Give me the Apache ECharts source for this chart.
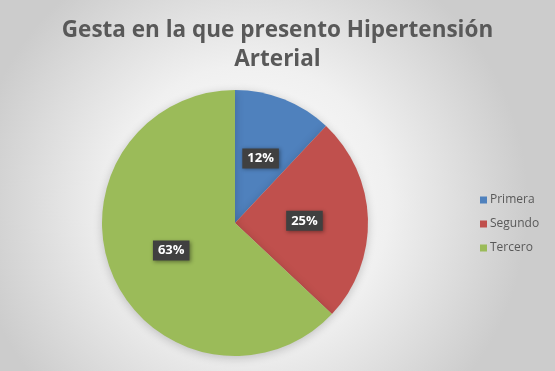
<!DOCTYPE html>
<html><head><meta charset="utf-8">
<script src="https://cdn.jsdelivr.net/npm/echarts@6/dist/echarts.min.js"></script>
<style>html,body{margin:0;padding:0;}#c{width:555px;height:371px;}</style>
</head><body><div id="c"></div>
<script>
var categories = ['Primera', 'Segundo', 'Tercero'];
var values = [12, 25, 63];
var colors = ['#4F81BD', '#C0504D', '#9BBB59'];
var titleText = 'Gesta en la que presento Hipertensión\nArterial';

var chart = echarts.init(document.getElementById('c'));
chart.setOption({
  backgroundColor: {
    type: 'radial', x: 0.45, y: 0.55, r: 0.75,
    colorStops: [{offset: 0, color: '#ffffff'}, {offset: 0.5, color: '#f0f0f0'}, {offset: 1, color: '#cccccc'}]
  },
  title: {
    text: titleText, left: 'center', top: 11,
    textStyle: {fontFamily: 'Open Sans', fontWeight: 'bold', fontSize: 22.5, color: '#595959', lineHeight: 29}
  },
  legend: {
    orient: 'vertical', left: 475, top: 189, itemWidth: 7, itemHeight: 7, itemGap: 12,
    icon: 'rect',
    textStyle: {fontFamily: 'Open Sans', fontSize: 12, color: '#595959', padding: [0,0,0,-2]},
    data: categories
  },
  series: [{
    type: 'pie', center: [235, 223], radius: 133, startAngle: 90, clockwise: true,
    animation: false,
    itemStyle: {shadowBlur: 10, shadowColor: 'rgba(0,0,0,0.2)', shadowOffsetY: 2},
    label: {
      position: 'inside', formatter: function(p){ return p.value + '%'; },
      color: '#ffffff', fontFamily: 'Open Sans', fontWeight: 'bold', fontSize: 13,
      backgroundColor: '#404040', padding: [4, 5, 3, 5],
      shadowBlur: 4, shadowColor: 'rgba(0,0,0,0.4)', shadowOffsetX: 1, shadowOffsetY: 1
    },
    labelLine: {show: false},
    data: categories.map(function(c, i){ return {name: c, value: values[i], itemStyle: {color: colors[i]}}; })
  }]
});
</script></body></html>
